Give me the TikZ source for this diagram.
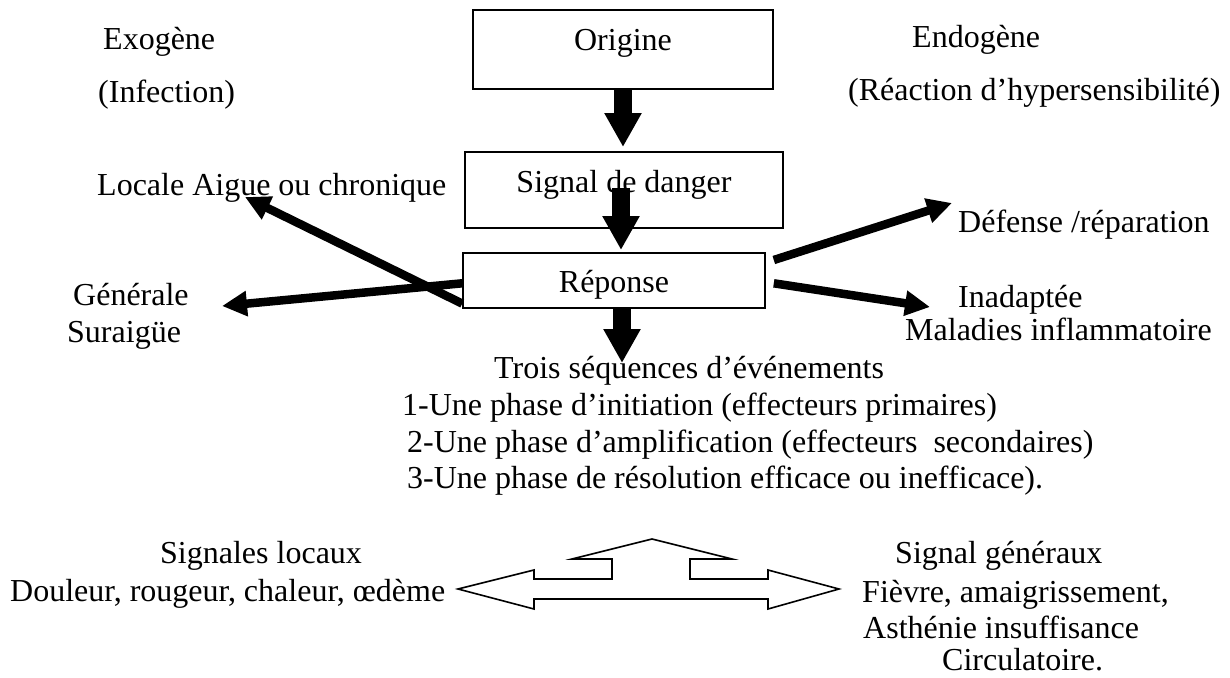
\documentclass[tikz,border=0pt]{standalone}
\usepackage{fontspec}
\setmainfont{Liberation Serif}
\usetikzlibrary{arrows.meta}
\tikzset{
  txt/.style={inner sep=0pt, anchor=base west, font=\fontsize{32}{37}\selectfont},
  box/.style={draw, line width=1.6pt, inner sep=0pt, align=center, font=\fontsize{32}{37}\selectfont},
  bigarrow/.style={line width=18pt, -{Triangle[width=35pt,length=34pt]}},
  diagarrow/.style={line width=8.5pt, -{Triangle[width=24pt,length=25pt]}},
  blockarrow/.style={draw, line width=1.6pt, fill=white, line join=miter}
}
\begin{document}
\begin{tikzpicture}[x=1pt,y=-1pt]
\useasboundingbox (0,0) rectangle (1230,677);
% boxes
\node[box, minimum width=300pt, text height=41pt, text depth=38pt, anchor=north] (origine) at (623,9) {Origine};
\node[box, minimum width=318pt, text height=41pt, text depth=35pt, anchor=north] (sdd) at (624,151) {Signal de danger};
\node[box, minimum width=302pt, text height=40pt, text depth=15pt, anchor=north] (rep) at (614,252) {Réponse};
% side texts
\node[txt] (exo) at (103,49) {Exogène};
\node[txt] (infec) at (98,102) {(Infection)};
\node[txt] (endo) at (912,48) {Endogène};
\node[txt] (reac) at (848,100) {(Réaction d’hypersensibilité)};
\node[txt] (locale) at (97,195) {Locale Aigue ou chronique};
\node[txt] (generale) at (73,305) {Générale};
\node[txt] (suraigue) at (67,342) {Suraigüe};
\node[txt] (defense) at (958,232) {Défense /réparation};
\node[txt] (inad) at (958,307) {Inadaptée};
\node[txt] (malad) at (905,340) {Maladies inflammatoire};
\node[txt] (trois) at (494,378) {Trois séquences d’événements};
\node[txt] (ph1) at (402,415) {1-Une phase d’initiation (effecteurs primaires)};
\node[txt] (ph2) at (407,452) {2-Une phase d’amplification (effecteurs~ secondaires)};
\node[txt] (ph3) at (407,488) {3-Une phase de résolution efficace ou inefficace).};
\node[txt] (sigloc) at (160,563) {Signales locaux};
\node[txt] (doul) at (10,601) {Douleur, rougeur, chaleur, œdème};
\node[txt] (siggen) at (895,563) {Signal généraux};
\node[txt] (fievre) at (862,602) {Fièvre, amaigrissement,};
\node[txt] (asth) at (863,638) {Asthénie insuffisance};
\node[txt] (circ) at (942,670) {Circulatoire.};
% arrow end points
\coordinate (a1s) at (623,88);
\coordinate (a1e) at (623,147);
\coordinate (a2s) at (621,188);
\coordinate (a2e) at (621,250);
\coordinate (a3s) at (622,307);
\coordinate (a3e) at (622,363);
\coordinate (locTip) at (245,197);
\coordinate (genTip) at (222,306);
\coordinate (defTip) at (952,203);
\coordinate (inaTip) at (930,307);
% vertical arrows
\draw[bigarrow] (a1s) -- (a1e);
\draw[bigarrow] (a2s) -- (a2e);
\draw[bigarrow] (a3s) -- (a3e);
% diagonal arrows
\draw[diagarrow] ([yshift=5pt]rep.south west) -- (locTip);
\draw[diagarrow] ([yshift=-3pt]rep.west) -- (genTip);
\draw[diagarrow] ([xshift=8pt,yshift=-8pt]rep.north east) -- (defTip);
\draw[diagarrow] ([xshift=8pt,yshift=-3pt]rep.east) -- (inaTip);
% block arrow (three-way)
\draw[blockarrow] (458,589) -- (534,570) -- (534,579) -- (612,579) -- (612,559) -- (572,559)
  -- (652,539) -- (732,559) -- (690,559) -- (690,579) -- (768,579) -- (768,570) -- (839,589)
  -- (768,609) -- (768,599) -- (534,599) -- (534,609) -- cycle;
\end{tikzpicture}
\end{document}
